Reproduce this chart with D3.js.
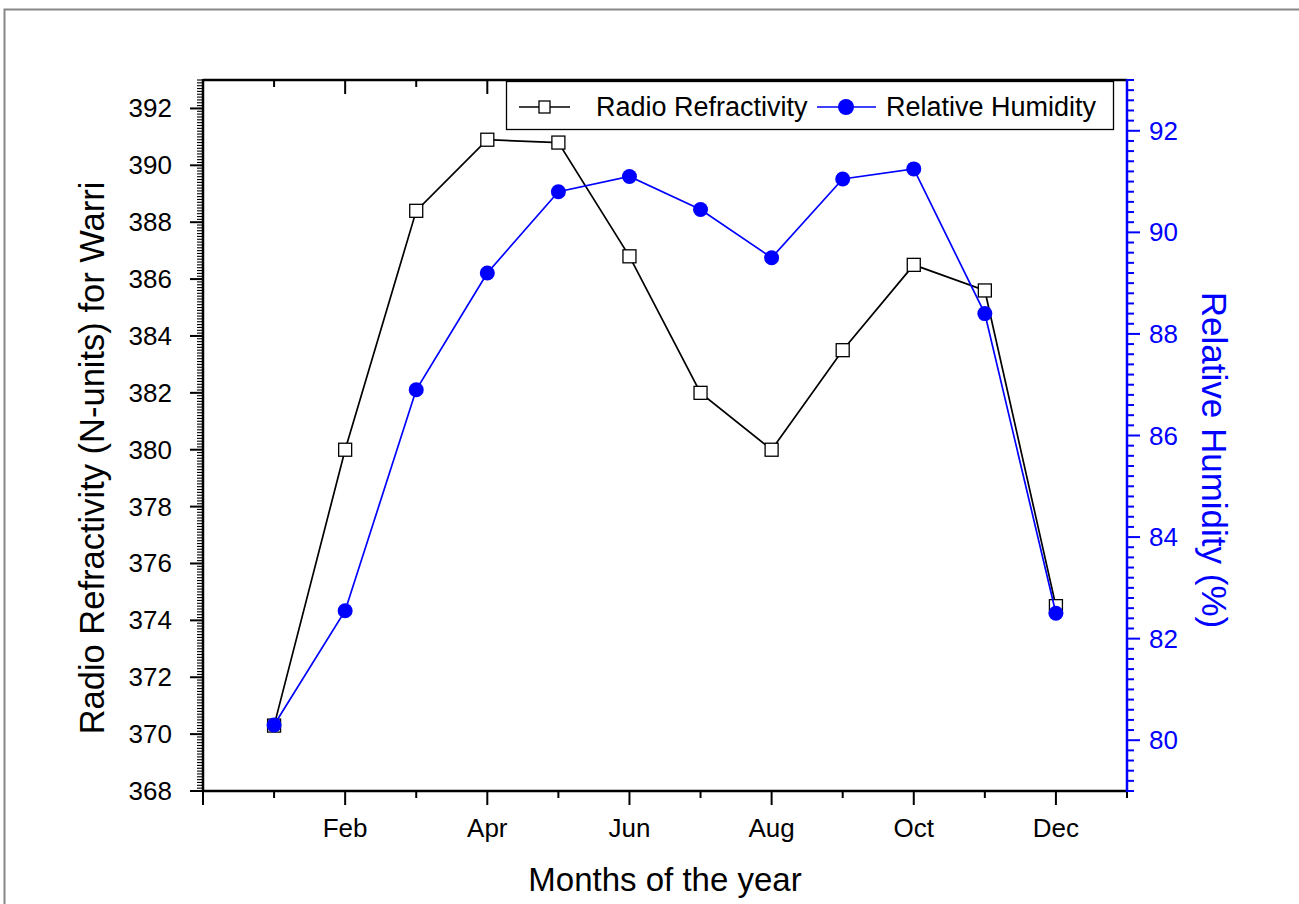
<!DOCTYPE html>
<html><head><meta charset="utf-8">
<script src="https://cdn.jsdelivr.net/npm/d3@7"></script>
<style>body{margin:0;background:#fff;}svg{display:block;font-family:"Liberation Sans",Arial,sans-serif;}</style>
</head><body><svg id="c" width="1299" height="904"></svg>
<script>
const months = [1,2,3,4,5,6,7,8,9,10,11,12];
const monthLabels = {2:"Feb",4:"Apr",6:"Jun",8:"Aug",10:"Oct",12:"Dec"};
const refractivity = [370.3,380.0,388.4,390.9,390.8,386.8,382.0,380.0,383.5,386.5,385.6,374.5];
const humidity = [80.3,82.55,86.9,89.2,90.8,91.1,90.45,89.5,91.05,91.25,88.4,82.5];
const leftTicks = [368,370,372,374,376,378,380,382,384,386,388,390,392];
const rightTicks = [80,82,84,86,88,90,92];

const svg = d3.select("#c");
const L=203, R=1127, T=80, B=791;
const x = d3.scaleLinear().domain([0,13]).range([L,R]);
const yL = d3.scaleLinear().domain([368,393]).range([B,T]);
const yR = d3.scaleLinear().domain([79,93]).range([B,T]);

// outer frame
svg.append("rect").attr("x",4.5).attr("y",9.5).attr("width",1310).attr("height",910)
  .attr("fill","none").attr("stroke","#888").attr("stroke-width",2);

// bottom axis ticks (outward) + labels
const xt = x.ticks(13);
const gx = svg.append("g").attr("transform",`translate(0,${B})`);
gx.selectAll(".tk").data(xt).enter().append("line")
  .attr("x1",d=>x(d)).attr("x2",d=>x(d)).attr("y1",0).attr("y2",d=>d%2===0?14:7)
  .attr("stroke","#000").attr("stroke-width",2);
gx.selectAll(".lb").data(xt.filter(d=>monthLabels[d])).enter().append("text")
  .attr("x",d=>x(d)).attr("y",46).attr("text-anchor","middle").attr("font-size",26).attr("fill","#000").text(d=>monthLabels[d]);
// top ticks (inward)
svg.append("g").selectAll("line").data(xt).enter().append("line")
  .attr("x1",d=>x(d)).attr("x2",d=>x(d)).attr("y1",T).attr("y2",d=>d%2===0?T+14:T+7)
  .attr("stroke","#000").attr("stroke-width",2);

// left axis
const gl = svg.append("g");
const minorL = yL.ticks(250);
gl.selectAll(".m").data(minorL).enter().append("line")
  .attr("x1",L).attr("x2",d=>Math.abs(d/2-Math.round(d/2))<1e-6?L-13:L-6)
  .attr("y1",d=>yL(d)).attr("y2",d=>yL(d)).attr("stroke","#000")
  .attr("stroke-width",d=>Math.abs(d/2-Math.round(d/2))<1e-6?2:1.1);
gl.selectAll(".t").data(leftTicks).enter().append("text")
  .attr("x",L-31).attr("y",d=>yL(d)+9).attr("text-anchor","end").attr("font-size",26).text(d=>d);

// right axis
const gr = svg.append("g");
const minorR = yR.ticks(70);
gr.selectAll(".m").data(minorR).enter().append("line")
  .attr("x1",R).attr("x2",d=>Math.abs(d/2-Math.round(d/2))<1e-6?R+13:R+7)
  .attr("y1",d=>yR(d)).attr("y2",d=>yR(d)).attr("stroke","#0000ff").attr("stroke-width",2);
gr.selectAll(".t").data(rightTicks).enter().append("text")
  .attr("x",R+22).attr("y",d=>yR(d)+9).attr("text-anchor","start").attr("font-size",26).attr("fill","#0000ff").text(d=>d);

// frame lines
svg.append("line").attr("x1",L).attr("x2",R).attr("y1",T).attr("y2",T).attr("stroke","#000").attr("stroke-width",2.5);
svg.append("line").attr("x1",L-1).attr("x2",R).attr("y1",B).attr("y2",B).attr("stroke","#000").attr("stroke-width",2.5);
svg.append("line").attr("x1",L).attr("x2",L).attr("y1",T-1).attr("y2",B+1).attr("stroke","#000").attr("stroke-width",2.5);
svg.append("line").attr("x1",R).attr("x2",R).attr("y1",T-1).attr("y2",B+1).attr("stroke","#0000ff").attr("stroke-width",2.5);

// series
const line1 = d3.line().x((d,i)=>x(months[i])).y(d=>yL(d));
svg.append("path").datum(refractivity).attr("d",line1).attr("fill","none").attr("stroke","#000").attr("stroke-width",1.7);
svg.selectAll(".sq").data(refractivity).enter().append("rect")
  .attr("x",(d,i)=>x(months[i])-6.5).attr("y",d=>yL(d)-6.5).attr("width",13).attr("height",13)
  .attr("fill","#fff").attr("stroke","#000").attr("stroke-width",1.3);
const line2 = d3.line().x((d,i)=>x(months[i])).y(d=>yR(d));
svg.append("path").datum(humidity).attr("d",line2).attr("fill","none").attr("stroke","#0000ff").attr("stroke-width",1.7);
svg.selectAll(".ci").data(humidity).enter().append("circle")
  .attr("cx",(d,i)=>x(months[i])).attr("cy",d=>yR(d)).attr("r",7.5).attr("fill","#0000ff");

// legend
const lg = svg.append("g");
lg.append("rect").attr("x",506.5).attr("y",81.5).attr("width",607).attr("height",48)
  .attr("fill","#fff").attr("stroke","#000").attr("stroke-width",1.3);
lg.append("line").attr("x1",519).attr("x2",570).attr("y1",107).attr("y2",107).attr("stroke","#000").attr("stroke-width",1.6);
lg.append("rect").attr("x",539).attr("y",101).attr("width",11).attr("height",12).attr("fill","#fff").attr("stroke","#000").attr("stroke-width",1.3);
lg.append("text").attr("x",596).attr("y",116).attr("font-size",27).text("Radio Refractivity");
lg.append("line").attr("x1",817).attr("x2",876).attr("y1",107).attr("y2",107).attr("stroke","#0000ff").attr("stroke-width",1.6);
lg.append("circle").attr("cx",846).attr("cy",107).attr("r",8).attr("fill","#0000ff");
lg.append("text").attr("x",886).attr("y",116).attr("font-size",27).text("Relative Humidity");

// axis titles
svg.append("text").attr("transform","translate(104,458) rotate(-90)").attr("text-anchor","middle")
  .attr("font-size",34.5).text("Radio Refractivity (N-units) for Warri");
svg.append("text").attr("transform","translate(1202,460) rotate(90)").attr("text-anchor","middle")
  .attr("font-size",35).attr("fill","#0000ff").text("Relative Humidity (%)");
svg.append("text").attr("x",665).attr("y",891).attr("text-anchor","middle").attr("font-size",33).text("Months of the year");
</script></body></html>
